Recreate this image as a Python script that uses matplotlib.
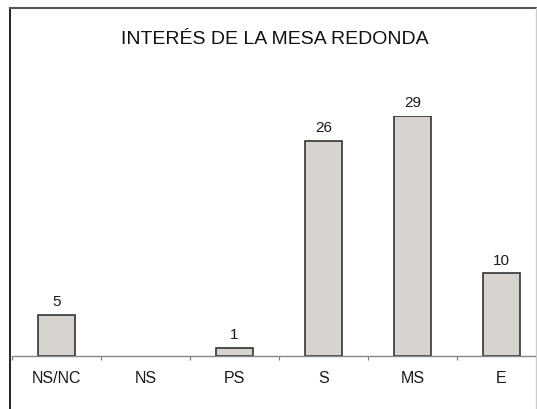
import matplotlib.pyplot as plt
import matplotlib.lines as mlines

categorias = ['NS/NC', 'NS', 'PS', 'S', 'MS', 'E']
valores = [5, 0, 1, 26, 29, 10]
titulo = 'INTERÉS DE LA MESA REDONDA'

plt.rcParams['font.family'] = ['Liberation Sans', 'DejaVu Sans']

W, H = 537, 409
fig = plt.figure(figsize=(W / 100, H / 100), dpi=100)
fig.patch.set_facecolor('white')

# axes box in pixels: x 12..546 (runs past the cropped right edge), baseline y=356
ax = fig.add_axes([12 / W, (H - 356) / H, 534 / W, 240 / H])
x = list(range(len(categorias)))
barras = ax.bar(x, valores, width=0.405, color='#d7d3cf', edgecolor='#333333', linewidth=1.2)
for b, v in zip(barras, valores):
    if v == 0:
        b.set_linewidth(0)
for xi, v in zip(x, valores):
    if v > 0:
        ax.annotate(str(v), (xi, v), xytext=(0, 4), textcoords='offset points',
                    ha='center', va='bottom', fontsize=11, color='#1a1a1a')

ax.set_xlim(-0.5, len(categorias) - 0.5)
ax.set_ylim(0, 29)
for s in ['top', 'right', 'left']:
    ax.spines[s].set_visible(False)
ax.spines['bottom'].set_color('#888888')
ax.spines['bottom'].set_linewidth(1.0)
ax.set_yticks([])
ax.set_xticks(x)
ax.set_xticklabels(categorias, fontsize=11.5, color='#1a1a1a')
ax.tick_params(axis='x', which='major', length=0, pad=11)
ax.set_xticks([i - 0.5 for i in range(len(categorias) + 1)], minor=True)
ax.tick_params(axis='x', which='minor', length=3, width=0.8, color='#777777')

fig.text(275 / W, 1 - 40 / H, titulo, ha='center', va='center', fontsize=14, color='#111111')

# outer frame (cropped at the bottom)
fig.add_artist(mlines.Line2D([9.5 / W, 9.5 / W], [0, 1 - 7.5 / H], color='#111111', lw=1.3))
fig.add_artist(mlines.Line2D([9.5 / W, 536 / W], [1 - 7.5 / H, 1 - 7.5 / H], color='#555555', lw=1.5))
fig.add_artist(mlines.Line2D([536 / W, 536 / W], [0, 1 - 7.5 / H], color='#cccccc', lw=1.0))

fig.savefig('out.png', dpi=100)
